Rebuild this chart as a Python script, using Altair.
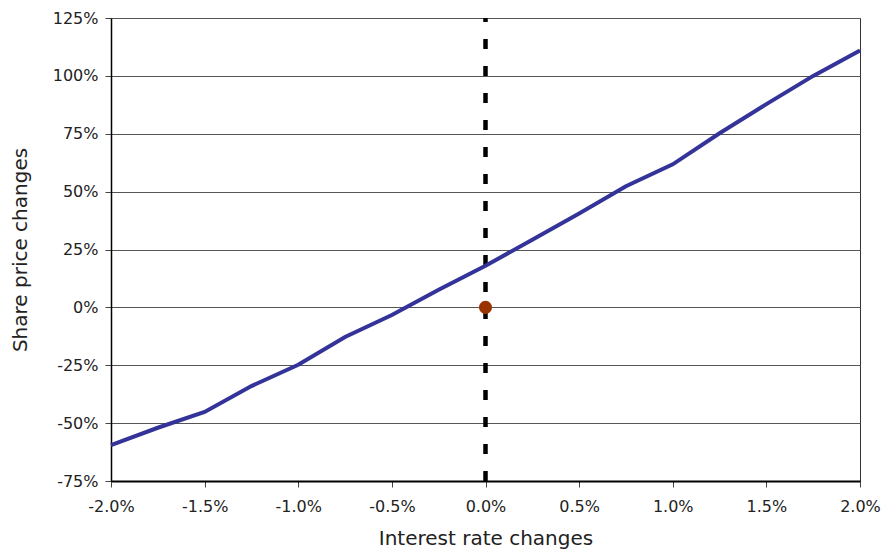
import altair as alt
import pandas as pd

# Interest rate shock (percentage points) and resulting share price change (%)
rate_change = [-2.0, -1.75, -1.5, -1.25, -1.0, -0.75, -0.5, -0.25, 0.0,
               0.25, 0.5, 0.75, 1.0, 1.25, 1.5, 1.75, 2.0]
price_change = [-59.5, -52.0, -45.2, -34.0, -24.8, -12.8, -3.3, 7.6, 18.0,
                29.2, 40.5, 52.3, 61.8, 75.2, 87.8, 100.0, 111.0]

# Current position marker
point_x = [0.0]
point_y = [0.0]

x_ticks = [-2.0, -1.5, -1.0, -0.5, 0.0, 0.5, 1.0, 1.5, 2.0]
y_ticks = [-75, -50, -25, 0, 25, 50, 75, 100, 125]

curve = pd.DataFrame({"rate": rate_change, "price": price_change})
marker = pd.DataFrame({"rate": point_x, "price": point_y})
zero_line = pd.DataFrame({"rate": [0.0]})

FONT = "DejaVu Sans"

x_scale = alt.Scale(domain=[-2.0, 2.0], nice=False, zero=False)
y_scale = alt.Scale(domain=[-75, 125], nice=False, zero=False)

x_axis = alt.Axis(
    values=x_ticks,
    title="Interest rate changes",
    labelExpr="replace(format(datum.value, '.1f'), '\u2212', '-') + '%'",
    grid=False,
    labelFlush=False,
    labelOverlap=False,
    domainColor="#000000",
    domainWidth=2,
    tickColor="#444444",
    tickSize=6,
    labelPadding=11,
    labelFont=FONT,
    labelFontSize=16,
    labelColor="#222222",
    titleFont=FONT,
    titleFontSize=20,
    titleFontWeight="normal",
    titleColor="#222222",
    titlePadding=14,
)

y_axis = alt.Axis(
    values=y_ticks,
    title="Share price changes",
    labelExpr="replace(format(datum.value, 'd'), '\u2212', '-') + '%'",
    grid=True,
    labelFlush=False,
    labelOverlap=False,
    gridColor="#555555",
    gridWidth=1,
    domainColor="#000000",
    domainWidth=1.5,
    tickColor="#444444",
    tickSize=6,
    labelPadding=7,
    labelFont=FONT,
    labelFontSize=16,
    labelColor="#222222",
    titleFont=FONT,
    titleFontSize=20,
    titleFontWeight="normal",
    titleColor="#222222",
    titlePadding=22,
)

line = alt.Chart(curve).mark_line(color="#333399", strokeWidth=4).encode(
    x=alt.X("rate:Q", scale=x_scale, axis=x_axis),
    y=alt.Y("price:Q", scale=y_scale, axis=y_axis),
)

vline = alt.Chart(zero_line).mark_rule(
    color="#000000", strokeWidth=4.5, strokeDash=[10, 17], strokeDashOffset=6
).encode(
    x=alt.X("rate:Q", scale=x_scale),
    y=alt.value(0),
    y2=alt.value(463),
)

dot = alt.Chart(marker).mark_circle(
    color="#993300", size=170, opacity=1
).encode(
    x=alt.X("rate:Q", scale=x_scale),
    y=alt.Y("price:Q", scale=y_scale),
)

chart = (
    alt.layer(vline, line, dot)
    .properties(
        width=749,
        height=463,
        autosize=alt.AutoSizeParams(type="none"),
        padding={"left": 111, "top": 18, "right": 23, "bottom": 70},
        background="#ffffff",
    )
    .configure_view(stroke="#333333", strokeWidth=1)
)

chart.save("out.html", embed_options={"renderer": "svg", "actions": False})
